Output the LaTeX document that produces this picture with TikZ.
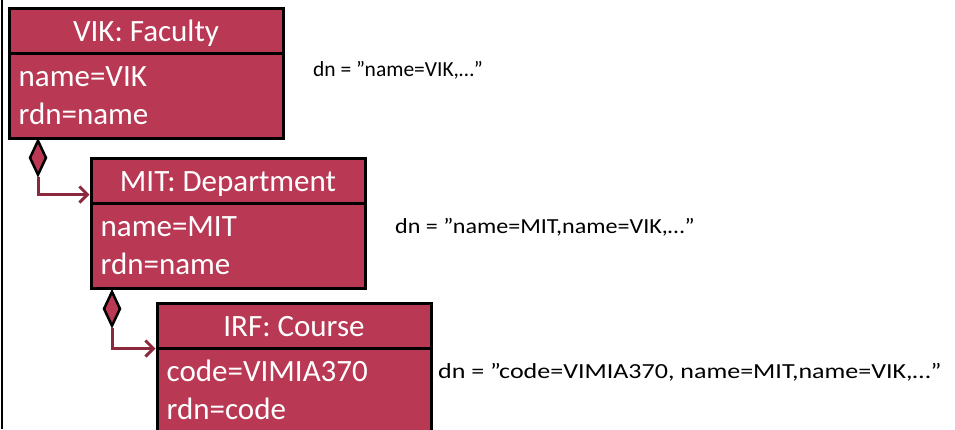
\documentclass[tikz,border=0pt]{standalone}
\usepackage{fontspec}
\setmainfont{Carlito}
\usetikzlibrary{shapes.geometric,arrows.meta,calc}
\definecolor{umlfill}{RGB}{185,57,85}
\definecolor{umlline}{RGB}{140,40,62}
\begin{document}
\begin{tikzpicture}[x=1pt,y=-1pt,
  umlhead/.style={rectangle,draw=black,line width=3pt,fill=umlfill,text=white,
    minimum width=274pt,minimum height=45pt,inner sep=0pt,
    text height=23pt,text depth=2pt,
    font=\fontsize{31}{38}\selectfont},
  umlbody/.style={rectangle,draw=black,line width=3pt,fill=umlfill,
    minimum width=274pt,minimum height=85pt,inner sep=0pt},
  attr/.style={anchor=base west,inner sep=0pt,text=white,
    font=\fontsize{31}{38}\selectfont},
  comp/.style={diamond,draw=black,line width=2.5pt,fill=umlfill,inner sep=0pt,
    minimum width=17pt,minimum height=35pt},
  conn/.style={draw=umlline,line width=3pt,-{Straight Barb[length=8pt,width=16pt]}},
  dnlabel/.style={anchor=base west,inner sep=0pt,font=\fontsize{21.5}{25}\selectfont}]
\useasboundingbox (0,0) rectangle (955,429);
\clip (0,0) rectangle (955,429);
\draw[line width=1.2pt] (2,0) -- (2,429);
% box 1
\node[umlbody] (b1b) at (146,95.5) {};
\node[umlhead] (b1h) at (146,30.5) {VIK: Faculty};
\node[attr] (b1a1) at ($(b1b.north west)+(11,34.5)$) {name=VIK};
\node[attr] (b1a2) at ($(b1b.north west)+(11,72.5)$) {rdn=name};
% box 2
\node[umlbody] (b2b) at (228,245.5) {};
\node[umlhead] (b2h) at (228,180.5) {MIT: Department};
\node[attr] (b2a1) at ($(b2b.north west)+(11,34.5)$) {name=MIT};
\node[attr] (b2a2) at ($(b2b.north west)+(11,72.5)$) {rdn=name};
% box 3
\node[umlbody] (b3b) at (294,390.5) {};
\node[umlhead] (b3h) at (294,325.5) {IRF: Course};
\node[attr] (b3a1) at ($(b3b.north west)+(11,34.5)$) {code=VIMIA370};
\node[attr] (b3a2) at ($(b3b.north west)+(11,72.5)$) {rdn=code};
% composition diamonds
\node[comp,anchor=north] (d1) at (38,139) {};
\node[comp,anchor=north] (d2) at (112,290) {};
\draw[conn] (d1.south) |- ($(b2h.south west)+(0,-10)$);
\draw[conn] (d2.south) |- ($(b3h.south west)+(0,-1)$);
% dn labels
\node[dnlabel] (dn1) at (313,76) {\scalebox{1.0}[1]{dn = ”name=VIK,…”}};
\node[dnlabel] (dn2) at (395,233) {\scalebox{1.12}[1]{dn = ”name=MIT,name=VIK,…”}};
\node[dnlabel] (dn3) at (438,378) {\scalebox{1.21}[1]{dn = ”code=VIMIA370, name=MIT,name=VIK,…”}};
\end{tikzpicture}
\end{document}
